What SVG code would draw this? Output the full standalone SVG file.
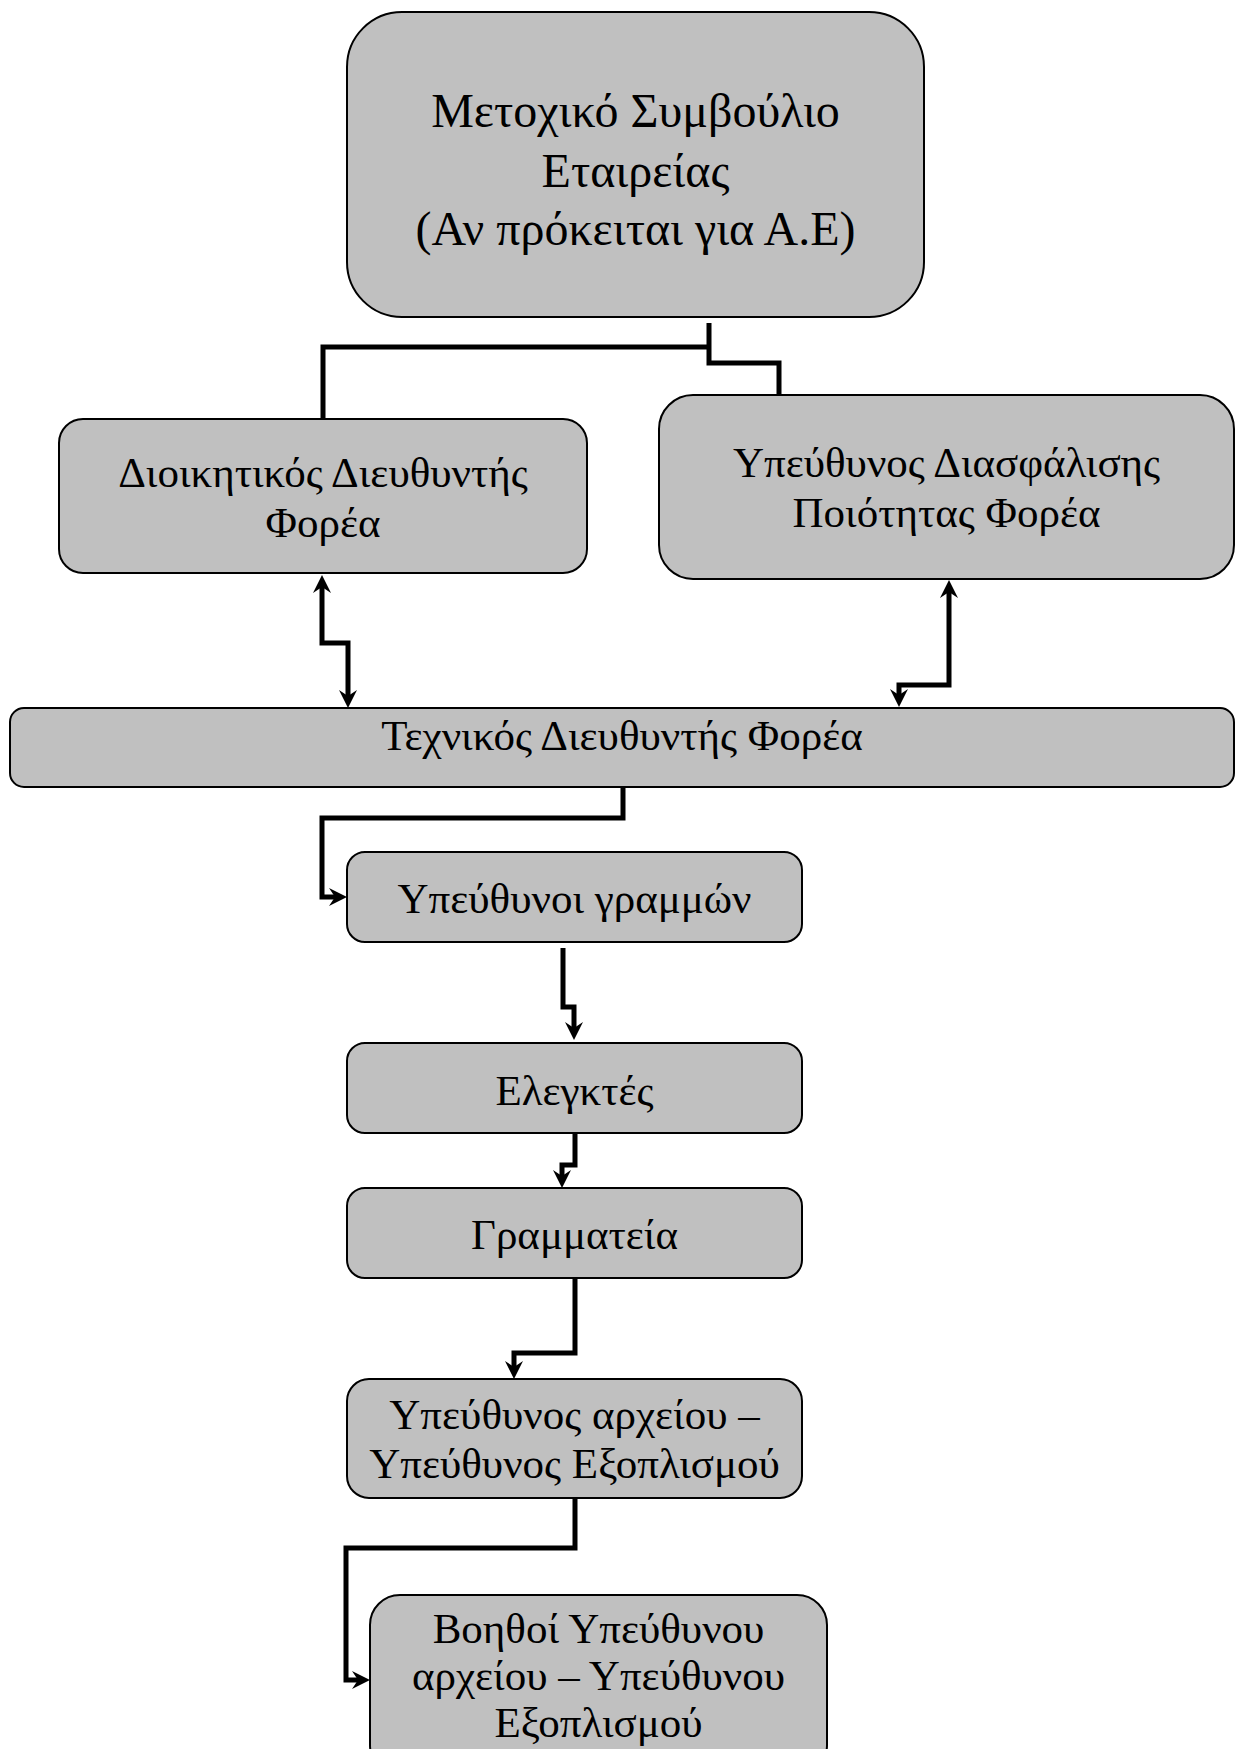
<svg xmlns="http://www.w3.org/2000/svg" width="1237" height="1749" viewBox="0 0 1237 1749">
<style>
.box{fill:#c0c0c0;stroke:#000;stroke-width:2}
.t{font-family:"Liberation Serif","Times New Roman",serif;font-size:43px;fill:#000;text-anchor:middle}
.big{font-size:48px}
.c{fill:none;stroke:#000;stroke-width:5;stroke-linejoin:miter}
</style>
<defs>
<marker id="ah" viewBox="0 0 18 18" refX="7" refY="9" markerWidth="18" markerHeight="18" markerUnits="userSpaceOnUse" orient="auto-start-reverse">
<path d="M0,0 L18,9 L0,18 L6,9 Z" fill="#000"/>
</marker>
</defs>
<rect width="1237" height="1749" fill="#fff"/>
<g id="connectors">
<path class="c" d="M323,419 V347 H709"/>
<path class="c" d="M709,323 V363 H779 V395"/>
<path class="c" d="M322,586 V643 H348 V697" marker-start="url(#ah)" marker-end="url(#ah)"/>
<path class="c" d="M949,591 V685 H899 V696" marker-start="url(#ah)" marker-end="url(#ah)"/>
<path class="c" d="M623,787 V818 H322 V897 H336" marker-end="url(#ah)"/>
<path class="c" d="M563,948 V1007 H574 V1029" marker-end="url(#ah)"/>
<path class="c" d="M575,1134 V1165 H562 V1177" marker-end="url(#ah)"/>
<path class="c" d="M575,1278 V1353 H514 V1368" marker-end="url(#ah)"/>
<path class="c" d="M575,1498 V1548 H346 V1680 H359" marker-end="url(#ah)"/>
</g>
<g id="board">
<rect class="box" x="347" y="12" width="577" height="305" rx="55"/>
<text class="t big" x="635.5" y="127">Μετοχικό Συμβούλιο</text>
<text class="t big" x="635.5" y="187">Εταιρείας</text>
<text class="t big" x="635.5" y="245">(Αν πρόκειται για Α.Ε)</text>
</g>
<g id="admin-director">
<rect class="box" x="59" y="419" width="528" height="154" rx="24"/>
<text class="t" x="323" y="487">Διοικητικός Διευθυντής</text>
<text class="t" x="323" y="537">Φορέα</text>
</g>
<g id="quality-manager">
<rect class="box" x="659" y="395" width="575" height="184" rx="34"/>
<text class="t" x="946.5" y="477">Υπεύθυνος Διασφάλισης</text>
<text class="t" x="946.5" y="527">Ποιότητας Φορέα</text>
</g>
<g id="technical-director">
<rect class="box" x="10" y="708" width="1224" height="79" rx="14"/>
<text class="t" x="622" y="750">Τεχνικός Διευθυντής Φορέα</text>
</g>
<g id="line-managers">
<rect class="box" x="347" y="852" width="455" height="90" rx="18"/>
<text class="t" x="574.5" y="913">Υπεύθυνοι γραμμών</text>
</g>
<g id="inspectors">
<rect class="box" x="347" y="1043" width="455" height="90" rx="18"/>
<text class="t" x="574.5" y="1105">Ελεγκτές</text>
</g>
<g id="secretariat">
<rect class="box" x="347" y="1188" width="455" height="90" rx="18"/>
<text class="t" x="574.5" y="1249">Γραμματεία</text>
</g>
<g id="archive-manager">
<rect class="box" x="347" y="1379" width="455" height="119" rx="22"/>
<text class="t" x="574.5" y="1429">Υπεύθυνος αρχείου –</text>
<text class="t" x="574.5" y="1478">Υπεύθυνος Εξοπλισμού</text>
</g>
<g id="assistants">
<rect class="box" x="370" y="1595" width="457" height="180" rx="30"/>
<text class="t" x="598.5" y="1643">Βοηθοί Υπεύθυνου</text>
<text class="t" x="598.5" y="1690">αρχείου – Υπεύθυνου</text>
<text class="t" x="598.5" y="1737">Εξοπλισμού</text>
</g>
</svg>
